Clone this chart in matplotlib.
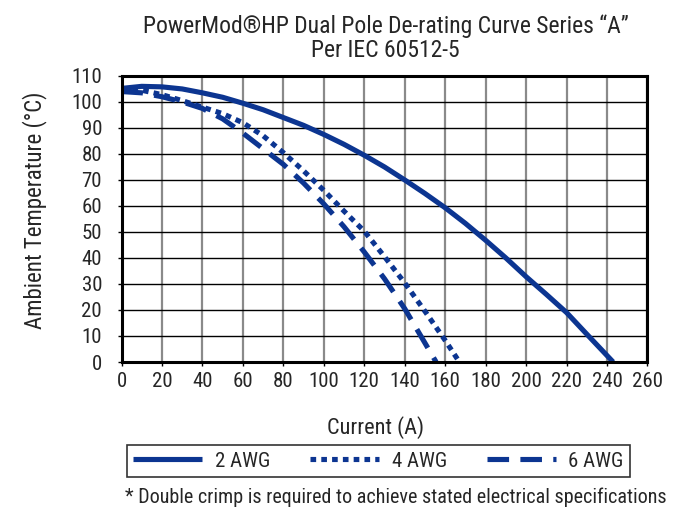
"""
PowerMod HP dual pole de-rating curves (Series "A"), per IEC 60512-5.
"""
import matplotlib
matplotlib.use("Agg")
import matplotlib.pyplot as plt

# Current (A) vs ambient temperature (C)
AWG2_CURRENT = [0, 10, 20, 30, 40, 50, 60, 70, 80, 90, 100, 110, 120, 130,
                140, 150, 160, 170, 180, 190, 200, 210, 220, 230, 243]
AWG2_TEMP = [105.2, 106, 105.8, 105, 103.5, 101.8, 99.5, 97, 94, 91, 87.5,
             83.7, 79.5, 75, 70, 64.8, 59.3, 53.3, 46.8, 40, 32.8, 26,
             19, 10.7, 0]

AWG4_CURRENT = [0, 10, 20, 30, 40, 50, 60, 70, 80, 90, 100, 110, 120, 130,
                140, 150, 160, 167]
AWG4_TEMP = [105, 104.5, 102.8, 100.5, 98, 95.5, 92, 87, 80.5, 73.5, 66, 58,
             50.3, 40.5, 30.4, 19.5, 8.3, 0]

AWG6_CURRENT = [0, 10, 20, 30, 40, 50, 60, 70, 80, 90, 100, 110, 120, 130,
                140, 150, 155.5]
AWG6_TEMP = [104, 103.5, 102, 100, 97.5, 93.5, 88, 82, 76, 68.8, 60.8, 52,
             42.3, 32, 20.5, 7.3, 0]

LABELS = ["2 AWG", "4 AWG", "6 AWG"]
X_TICKS = list(range(0, 261, 20))
Y_TICKS = list(range(0, 111, 10))

TITLE_1 = "PowerMod\u00aeHP Dual Pole De-rating Curve Series \u201cA\u201d"
TITLE_2 = "Per IEC 60512-5"
FOOTNOTE = "* Double crimp is required to achieve stated electrical specifications"

BLUE = "#0c3591"
TEXT = "#262626"
NARROW = ["Roboto Condensed", "DejaVu Sans"]


def main() -> None:
    plt.rcParams["font.family"] = NARROW

    fig = plt.figure(figsize=(6.8, 5.09), dpi=100)
    ax = fig.add_axes([0.1787, 0.2888, 0.7735, 0.562])

    ax.plot(AWG2_CURRENT, AWG2_TEMP, color=BLUE, lw=3.7, label=LABELS[0],
            solid_capstyle="butt", solid_joinstyle="round")
    ax.plot(AWG4_CURRENT, AWG4_TEMP, color=BLUE, lw=3.7, label=LABELS[1],
            linestyle=(0, (1.1, 1.0)), dash_capstyle="butt")
    ax.plot(AWG6_CURRENT, AWG6_TEMP, color=BLUE, lw=3.7, label=LABELS[2],
            linestyle=(0, (4.2, 2.2)), dash_capstyle="butt")

    ax.set_xlim(0, 260)
    ax.set_ylim(0, 110)
    ax.set_xticks(X_TICKS)
    ax.set_yticks(Y_TICKS)

    # Vertical grid grey, horizontal grid black
    ax.xaxis.grid(True, color="#8a8a8a", lw=1.6)
    ax.yaxis.grid(True, color="black", lw=1.0)
    ax.set_axisbelow(True)

    for spine in ax.spines.values():
        spine.set_linewidth(2.2)
        spine.set_color("black")

    ax.tick_params(direction="out", length=3, width=1, colors="black",
                   labelcolor=TEXT, labelsize=15)
    ax.tick_params(axis="x", pad=4)
    ax.tick_params(axis="y", pad=11)

    # Titles and axis labels placed in figure coordinates
    fig.text(0.567, 0.935, TITLE_1, ha="center", va="baseline",
             fontsize=17, color=TEXT)
    fig.text(0.567, 0.888, TITLE_2, ha="center", va="baseline",
             fontsize=17, color=TEXT)
    fig.text(0.553, 0.161, "Current (A)", ha="center", va="center",
             fontsize=16, color=TEXT)
    fig.text(0.051, 0.587, "Ambient Temperature (\u00b0C)", ha="center",
             va="center", rotation=90, fontsize=16.5, color=TEXT)

    leg = fig.legend(loc="center", bbox_to_anchor=(0.1868, 0.0609, 0.7397, 0.0668),
                     mode="expand", borderaxespad=0, ncol=3, frameon=True,
                     fancybox=False, edgecolor="black", handlelength=3.3,
                     borderpad=0.3, handletextpad=0.6,
                     prop={"family": NARROW, "size": 15})
    leg.get_frame().set_linewidth(1.2)
    for txt in leg.get_texts():
        txt.set_color(TEXT)

    fig.text(0.184, 0.0236, FOOTNOTE, ha="left", va="center",
             fontsize=14.5, color=TEXT)

    fig.savefig("out.png", dpi=100)


if __name__ == "__main__":
    main()
